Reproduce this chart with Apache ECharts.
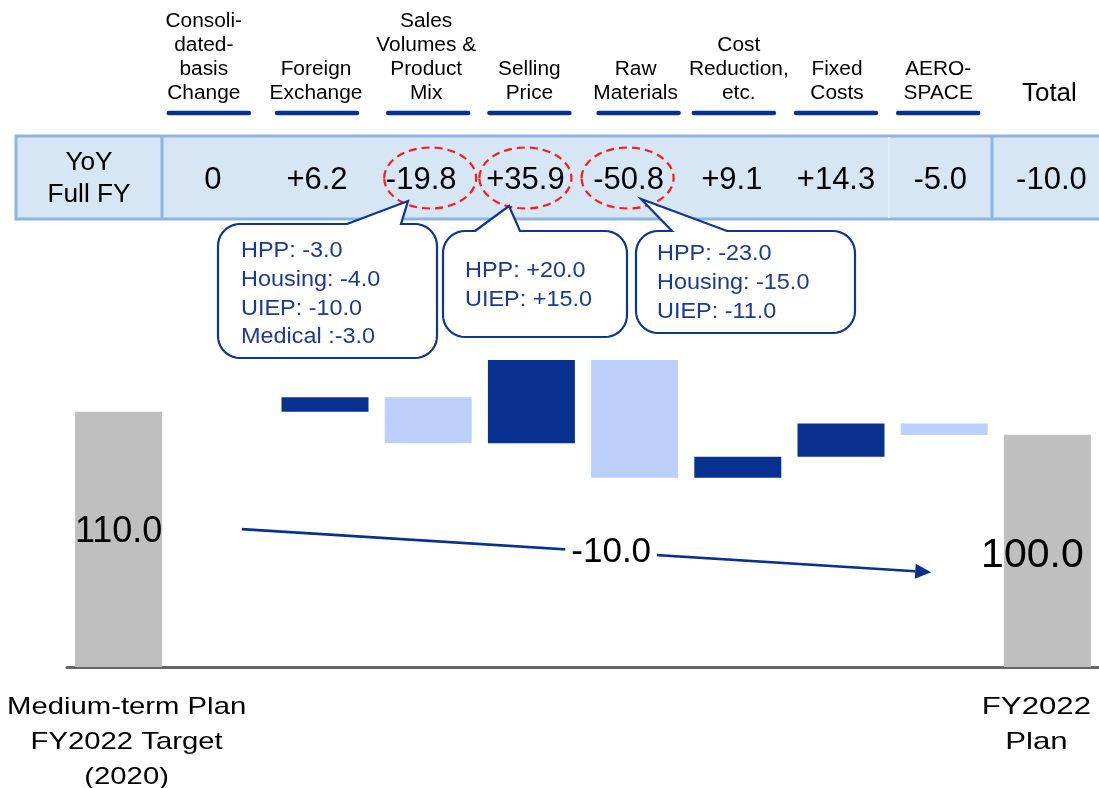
<!DOCTYPE html>
<html><head><meta charset="utf-8">
<script src="https://cdn.jsdelivr.net/npm/echarts@6/dist/echarts.min.js"></script>
<style>html,body{margin:0;padding:0;background:#fff;overflow:hidden}#c{width:1099px;height:788px}</style>
</head><body><div id="c"></div>
<script>
// ---- data ----
const categories = ['Medium-term Plan\nFY2022 Target\n(2020)', 'Consoli-\ndated-\nbasis\nChange', 'Foreign\nExchange',
  'Sales\nVolumes &\nProduct\nMix', 'Selling\nPrice', 'Raw\nMaterials', 'Cost\nReduction,\netc.', 'Fixed\nCosts',
  'AERO-\nSPACE', 'FY2022\nPlan'];
const startValue = 110.0;
const endValue = 100.0;
const deltas = [0, 6.2, -19.8, 35.9, -50.8, 9.1, 14.3, -5.0];
const totalLabel = 'Total';
const rowLabel = 'YoY\nFull FY';
const tableValues = ['0', '+6.2', '-19.8', '+35.9', '-50.8', '+9.1', '+14.3', '-5.0', '-10.0'];
const totalChangeText = '-10.0';
const calloutSales = ['HPP: -3.0', 'Housing: -4.0', 'UIEP: -10.0', 'Medical :-3.0'];
const calloutPrice = ['HPP: +20.0', 'UIEP: +15.0'];
const calloutRaw = ['HPP: -23.0', 'Housing: -15.0', 'UIEP: -11.0'];

// ---- waterfall build ----
const n = categories.length;
const base = new Array(n).fill(0), up = new Array(n).fill(0), down = new Array(n).fill(0);
const startS = new Array(n).fill(0), endS = new Array(n).fill(0);
startS[0] = startValue; endS[n - 1] = endValue;
let cur = startValue;
deltas.forEach((d, k) => {
  const i = k + 1, next = cur + d;
  base[i] = Math.min(cur, next);
  if (d > 0) up[i] = d; else if (d < 0) down[i] = -d;
  cur = next;
});

const FONT = '"Liberation Sans", Arial, sans-serif';
const DARK = '#08308F', LIGHT = '#BDD0FB', GRAY = '#BFBFBF', TXTBLUE = '#1A3A94';

const chart = echarts.init(document.getElementById('c'));
const option = {
  animation: false,
  grid: { left: 67, width: 1033, top: 342, bottom: 121 },
  xAxis: {
    type: 'category', data: categories,
    axisTick: { show: false },
    axisLine: { lineStyle: { color: '#666', width: 3 } },
    axisLabel: { show: false }
  },
  yAxis: { type: 'value', min: 0, max: 140, show: false, splitLine: { show: false } },
  series: [
    { type: 'bar', stack: 'w', data: base, barWidth: 87, itemStyle: { color: 'transparent' }, silent: true },
    { type: 'bar', stack: 'w', data: up, barWidth: 87, itemStyle: { color: DARK } },
    { type: 'bar', stack: 'w', data: down, barWidth: 87, itemStyle: { color: LIGHT } },
    { type: 'bar', stack: 'w', data: startS, barWidth: 87, itemStyle: { color: GRAY },
      label: { show: true, position: 'inside', offset: [0, -7], fontSize: 36, fontFamily: FONT, color: '#000',
        formatter: p => p.value ? p.value.toFixed(1) : '' } },
    { type: 'bar', stack: 'w', data: endS, barWidth: 87, itemStyle: { color: GRAY },
      label: { show: true, position: 'inside', offset: [-15, 5], fontSize: 41, fontFamily: FONT, color: '#000',
        formatter: p => p.value ? p.value.toFixed(1) : '' } }
  ]
};
chart.setOption(option);

const px = (i, v) => chart.convertToPixel({ gridIndex: 0 }, [i, v]);
const g = [];
function text(x, y, t, size, opts) {
  opts = opts || {};
  const st = Object.assign({ text: t, font: size + 'px ' + FONT, fill: opts.fill || '#000',
    align: opts.align || 'center', textAlign: opts.align || 'center',
    verticalAlign: opts.va || 'middle', textVerticalAlign: opts.va || 'middle',
    lineHeight: opts.lh || size * 1.2 }, opts.extra || {});
  const el = { type: 'text', x: x, y: y, z: opts.z || 10, style: st };
  if (opts.sx) { el.scaleX = opts.sx; el.originX = 0; el.originY = 0; }
  g.push(el);
}

// header labels and underlines
const headerNames = categories.slice(1, n - 1).concat([totalLabel]);
const headDx = [-18, -9, -2, -2, 1, 1, -4, -6, 2];
const lineDx = [-13, -8, 0, -2, 4, -4, -5, -6];
headerNames.forEach((name, k) => {
  const cx = px(k + 1, 0)[0];
  if (k < headerNames.length - 1) {
    text(cx + headDx[k], 106, name, 19.5, { va: 'bottom', lh: 24, sx: 1.07 });
    g.push({ type: 'line', z: 10, shape: { x1: cx + lineDx[k] - 40, y1: 113, x2: cx + lineDx[k] + 40, y2: 113 },
      style: { stroke: DARK, lineWidth: 4.5, lineCap: 'round' } });
  } else {
    text(cx + headDx[k], 94, name, 26, { va: 'middle' });
  }
});

// table band
g.push({ type: 'rect', z: 5, shape: { x: 16, y: 136, width: 1095, height: 83 },
  style: { fill: '#D6E6F5', stroke: '#8DB4E2', lineWidth: 3 } });
g.push({ type: 'line', z: 6, shape: { x1: 889, y1: 137, x2: 889, y2: 218 }, style: { stroke: '#E4EEF9', lineWidth: 2 } });
[162, 992].forEach(x => g.push({ type: 'line', z: 6, shape: { x1: x, y1: 136, x2: x, y2: 219 },
  style: { stroke: '#8DB4E2', lineWidth: 3 } }));
text(89, 179, rowLabel, 25, { lh: 32, sx: 1.05 });
const valDx = [-9, -8, -7, -6, -6, -6, -5, -4, 4];
tableValues.forEach((t, k) => {
  const cx = px(k + 1, 0)[0];
  text(cx + valDx[k], 180, t, 31);
});

// dashed ellipses (Sales volumes, Selling price, Raw materials)
[[3, 2], [4, -6], [5, -7]].forEach(([i, dx]) => {
  g.push({ type: 'ellipse', z: 12, shape: { cx: px(i, 0)[0] + dx, cy: 178, rx: 46, ry: 30.5 },
    style: { fill: 'none', stroke: '#FF1A1A', lineWidth: 2.2, lineDash: [8, 5] } });
});

// callouts
function callout(x, y, w, h, r, b1, b2, tx, ty, lines, lx, ly) {
  const pts = [[b1, y], [tx, ty], [b2, y]];
  const arc = (cx, cy, a0, a1) => { for (let s = 0; s <= 10; s++) { const a = a0 + (a1 - a0) * s / 10; pts.push([cx + r * Math.cos(a), cy + r * Math.sin(a)]); } };
  arc(x + w - r, y + r, -Math.PI / 2, 0);
  arc(x + w - r, y + h - r, 0, Math.PI / 2);
  arc(x + r, y + h - r, Math.PI / 2, Math.PI);
  arc(x + r, y + r, Math.PI, Math.PI * 1.5);
  g.push({ type: 'polygon', z: 14, shape: { points: pts }, style: { fill: '#fff', stroke: '#0E3592', lineWidth: 2.2, lineJoin: 'miter' } });
  text(lx, ly, lines.join('\n'), 21.5, { align: 'left', va: 'top', lh: 28.7, fill: TXTBLUE, z: 15, sx: 1.09 });
}
callout(218, 224, 219, 134, 22, 347, 401, 408, 201, calloutSales, 241, 237);
callout(443, 231, 184, 106, 22, 475, 520, 509, 206, calloutPrice, 465, 257);
callout(636, 231, 219, 102, 22, 672, 727, 641, 199, calloutRaw, 657, 240);

// total change arrow
const a0 = px(1, 59.4), a1 = px(8, 40.8);
const x0 = a0[0] + 20, y0 = a0[1], x1 = a1[0] - 13, y1 = a1[1];
const L = Math.hypot(x1 - x0, y1 - y0), ux = (x1 - x0) / L, uy = (y1 - y0) / L;
const hl = 16, hw = 7.5;
const bx = x1 - ux * hl, by = y1 - uy * hl;
g.push({ type: 'line', z: 10, shape: { x1: x0, y1: y0, x2: bx, y2: by }, style: { stroke: DARK, lineWidth: 2.6 } });
g.push({ type: 'polygon', z: 10, shape: { points: [[x1, y1], [bx - uy * hw, by + ux * hw], [bx + uy * hw, by - ux * hw]] },
  style: { fill: DARK } });
const t = 0.53;
text(x0 + (x1 - x0) * t + 4, y0 + (y1 - y0) * t, totalChangeText, 35,
  { z: 11, extra: { backgroundColor: '#fff', padding: [2, 6, 2, 6] } });

// bottom category labels (first and last columns)
function bottomLabel(i, dx, w) {
  const cx = px(i, 0)[0] + dx;
  g.push({ type: 'text', z: 10, x: cx, y: 690, scaleX: w, originX: 0, originY: 0,
    style: { text: categories[i], font: '24px ' + FONT, fill: '#000', align: 'center', textAlign: 'center',
      verticalAlign: 'top', textVerticalAlign: 'top', lineHeight: 35 } });
}
bottomLabel(0, 8, 1.22);
bottomLabel(n - 1, -11, 1.3);

chart.setOption({ graphic: { elements: g } });
</script></body></html>
